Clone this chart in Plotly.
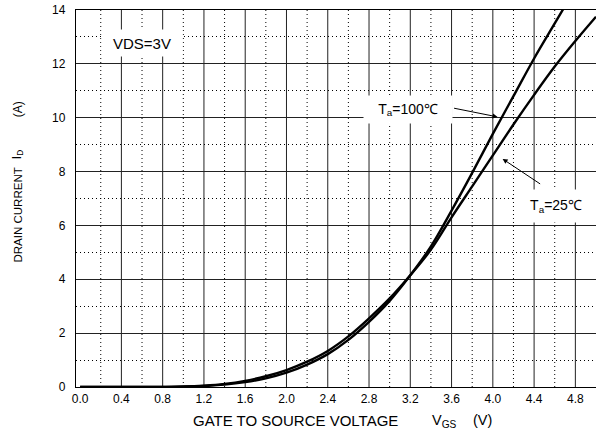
import plotly.graph_objects as go

# Data
vgs = [0.0, 0.4, 0.8, 1.0, 1.2, 1.4, 1.6, 1.8, 2.0, 2.2, 2.4, 2.6, 2.8, 3.0,
       3.2, 3.4, 3.6, 3.8, 4.0, 4.2, 4.4, 4.6, 4.8, 5.0]
id_25 = [0.0, 0.0, 0.005, 0.016, 0.05, 0.115, 0.23, 0.4, 0.63, 0.94, 1.34, 1.88,
         2.55, 3.29, 4.15, 5.1, 6.3, 7.45, 8.6, 9.75, 10.85, 11.9, 12.85, 13.75]
id_100 = [0.0, 0.0, 0.003, 0.01, 0.035, 0.088, 0.18, 0.32, 0.53, 0.83, 1.22, 1.75,
          2.42, 3.2, 4.15, 5.22, 6.55, 7.95, 9.4, 10.8, 12.2, 13.5, 14.8, 16.1]

x_major = [0.4, 0.8, 1.2, 1.6, 2.0, 2.4, 2.8, 3.2, 3.6, 4.0, 4.4, 4.8]
x_minor = [0.2, 0.6, 1.0, 1.4, 1.8, 2.2, 2.6, 3.0, 3.4, 3.8, 4.2, 4.6]
x_ticks = [0.0, 0.4, 0.8, 1.2, 1.6, 2.0, 2.4, 2.8, 3.2, 3.6, 4.0, 4.4, 4.8]
x_ticktext = ["0.0", "0.4", "0.8", "1.2", "1.6", "2.0", "2.4", "2.8", "3.2",
              "3.6", "4.0", "4.4", "4.8"]

FONT = "Liberation Sans, Arial, sans-serif"

fig = go.Figure()
fig.add_trace(go.Scatter(x=vgs, y=id_25, mode="lines", name="Ta=25",
                         line=dict(color="black", width=2.4, shape="spline")))
fig.add_trace(go.Scatter(x=vgs, y=id_100, mode="lines", name="Ta=100",
                         line=dict(color="black", width=2.4, shape="spline")))

shapes = []
for xv in x_major:
    shapes.append(dict(type="line", xref="x", yref="paper", x0=xv, x1=xv, y0=0, y1=1,
                       line=dict(color="#222", width=1), layer="below"))
for xv in x_minor:
    shapes.append(dict(type="line", xref="x", yref="paper", x0=xv, x1=xv, y0=0, y1=1,
                       line=dict(color="black", width=1, dash="1px,3px"), layer="below"))

def txt(x, y, text, size, xref="paper", yref="paper", angle=0, xanchor="center", **kw):
    d = dict(x=x, y=y, xref=xref, yref=yref, text=text, showarrow=False, textangle=angle,
             xanchor=xanchor, yanchor="middle",
             font=dict(family=FONT, size=size, color="black"))
    d.update(kw)
    return d

annotations = [
    txt(0.6, 12.77, "VDS=3V", 15, xref="x", yref="y", bgcolor="white", width=78, height=24),
    txt(3.175, 10.3, "T<sub>a</sub>=100℃", 14, xref="x", yref="y", bgcolor="white",
        width=86, height=25),
    txt(4.61, 6.72, "T<sub>a</sub>=25℃", 14, xref="x", yref="y", bgcolor="white",
        width=78, height=30),
    # arrows
    dict(x=4.046, y=10.03, xref="x", yref="y", text="", showarrow=True,
         ax=-45, ay=-9, arrowhead=2, arrowsize=1, arrowwidth=1, arrowcolor="black"),
    dict(x=4.095, y=8.47, xref="x", yref="y", text="", showarrow=True,
         ax=39, ay=26, arrowhead=2, arrowsize=1, arrowwidth=1, arrowcolor="black"),
    # x axis title pieces
    txt(0.423, -0.088, "GATE TO SOURCE VOLTAGE", 15),
    txt(0.681, -0.09, "V<sub>GS</sub>", 14.5, xanchor="left"),
    txt(0.781, -0.088, "(V)", 14.5),
    # y axis title pieces
    txt(-0.1115, 0.455, "DRAIN CURRENT", 11.5, angle=-90),
    txt(-0.1115, 0.615, "I<sub>D</sub>", 12, angle=-90),
    txt(-0.1115, 0.737, "(A)", 12, angle=-90),
]

fig.update_layout(
    width=596, height=437,
    margin=dict(l=76, r=0, t=10, b=50),
    paper_bgcolor="white", plot_bgcolor="white",
    showlegend=False,
    shapes=shapes,
    annotations=annotations,
    font=dict(family=FONT, size=11, color="black"),
    xaxis=dict(range=[-0.04, 5.0], tickmode="array", tickvals=x_ticks, ticktext=x_ticktext,
               showgrid=False, zeroline=False, showline=True, mirror=True,
               linecolor="black", linewidth=1.4,
               ticks="", ticklabelstandoff=0, tickfont=dict(family=FONT, size=12)),
    yaxis=dict(range=[0, 14.0], tick0=0, dtick=2, showgrid=True, gridcolor="#222", gridwidth=1,
               minor=dict(dtick=1, tick0=0, showgrid=True, gridcolor="black", griddash="1px,3px",
                          gridwidth=1),
               zeroline=False, showline=True, linecolor="black", linewidth=1.4,
               ticks="", ticklabelstandoff=7, tickfont=dict(family=FONT, size=12)),
)

# remove the browser's default 8px page margin so the figure sits at the window's corner
fig.write_html("out.html", config={"displayModeBar": False},
               post_script="document.body.style.margin='0';")
